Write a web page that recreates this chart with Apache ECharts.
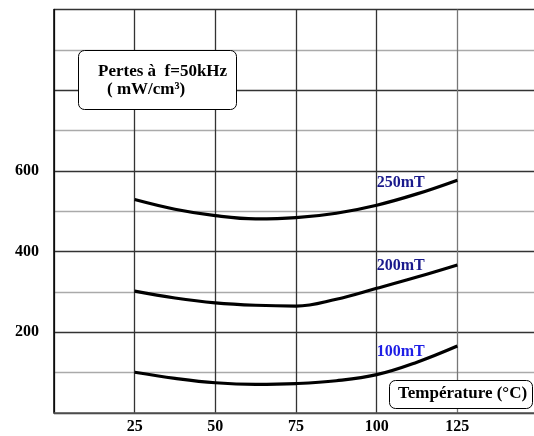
<!DOCTYPE html>
<html><head><meta charset="utf-8">
<script src="https://cdn.jsdelivr.net/npm/echarts@6/dist/echarts.min.js"></script>
<style>html,body{margin:0;padding:0;background:#fff}#c{width:534px;height:436px}</style>
</head><body><div id="c"></div>
<script>
var temps = [25, 37.5, 50, 62.5, 75, 87.5, 100, 112.5, 125];
var s250 = [529, 505, 489, 481, 484, 495, 515, 543, 577];
var s200 = [302, 285, 273, 267, 265, 282, 309, 337, 367];
var s100 = [101, 86, 75, 71, 73, 80, 95, 126, 166];
var xTicks = [25, 50, 75, 100, 125];
var yTicks = [200, 400, 600];
var names = ['250mT', '200mT', '100mT'];
var labelColors = ['#1a1a8c', '#1a1a8c', '#1e1ee6'];
var font = 'Liberation Serif';

function mk(vals, idx) {
  return {
    type: 'line', smooth: 0.4, symbol: 'circle', symbolSize: 1, showSymbol: true, showAllSymbol: true,
    silent: true,
    itemStyle: {color: 'rgba(0,0,0,0)', borderWidth: 0},
    lineStyle: {color: '#000', width: 3.2},
    labelLayout: {hideOverlap: false, dy: -9},
    data: temps.map(function (t, i) {
      var d = {value: [t, vals[i]]};
      if (t === 100) {
        d.label = {show: true, formatter: names[idx], position: 'top', align: 'left',
          color: labelColors[idx], fontFamily: font, fontWeight: 'bold', fontSize: 16};
      }
      return d;
    })
  };
}

var chart = echarts.init(document.getElementById('c'));
chart.setOption({
  animation: false,
  grid: {left: 54, width: 484, top: 9.5, bottom: 23, containLabel: false, outerBoundsMode: 'none'},
  xAxis: {
    type: 'value', min: 0, max: 150, interval: 25,
    axisLine: {show: true, lineStyle: {color: '#555', width: 1.5}},
    axisTick: {show: false},
    axisLabel: {fontFamily: font, fontWeight: 'bold', fontSize: 16, color: '#000', margin: 6,
      formatter: function (v) { return xTicks.indexOf(v) >= 0 ? String(v) : ''; }},
    splitLine: {show: true, lineStyle: {color: ['#333', '#333', '#333', '#333', '#333', '#777', '#333'], width: 1.3}}
  },
  yAxis: {
    type: 'value', min: 0, max: 1000, interval: 100,
    axisLine: {show: true, lineStyle: {color: '#000', width: 1.5}},
    axisTick: {show: false},
    axisLabel: {fontFamily: font, fontWeight: 'bold', fontSize: 16, color: '#000', margin: 15,
      formatter: function (v) { return yTicks.indexOf(v) >= 0 ? String(v) : ''; }},
    splitLine: {show: true, lineStyle: {color: ['#333', '#aaa'], width: 1.3}}
  },
  series: [mk(s250, 0), mk(s200, 1), mk(s100, 2)],
  graphic: [
    {type: 'rect', left: 78, top: 50, z: 10, shape: {width: 158, height: 59, r: 6},
      style: {fill: '#fff', stroke: '#000', lineWidth: 1}},
    {type: 'text', left: 98, top: 63, z: 11, style: {text: 'Pertes à  f=50kHz', fontFamily: font, fontWeight: 'bold', fontSize: 17, fill: '#000'}},
    {type: 'text', left: 107, top: 81, z: 11, style: {text: '( mW/cm³)', fontFamily: font, fontWeight: 'bold', fontSize: 17, fill: '#000'}},
    {type: 'rect', left: 389, top: 380, z: 10, shape: {width: 143, height: 28, r: 6},
      style: {fill: '#fff', stroke: '#000', lineWidth: 1}},
    {type: 'text', left: 398, top: 385, z: 11, style: {text: 'Température (°C)', fontFamily: font, fontWeight: 'bold', fontSize: 17, fill: '#000'}}
  ]
});
</script></body></html>
